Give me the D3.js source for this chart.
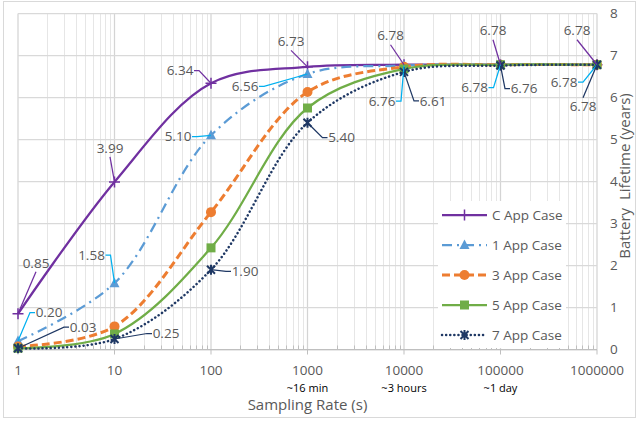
<!DOCTYPE html>
<html>
<head>
<meta charset="utf-8">
<script src="https://cdn.jsdelivr.net/npm/d3@7"></script>
<style>
  body { margin: 0; background: #fff; }
  text { font-family: "Open Sans", "Noto Sans", sans-serif; }
</style>
</head>
<body>
<svg id="chart" width="637" height="421"></svg>
<script>
// ---- data ----
var samplingRates = [1, 10, 100, 1000, 10000, 100000, 1000000];
var cApp = [0.85, 3.99, 6.34, 6.73, 6.78, 6.78, 6.78];
var app1 = [0.20, 1.58, 5.10, 6.56, 6.76, 6.78, 6.78];
var app3 = [0.07, 0.55, 3.27, 6.13, 6.73, 6.78, 6.78];
var app5 = [0.03, 0.37, 2.42, 5.75, 6.68, 6.78, 6.78];
var app7 = [0.03, 0.25, 1.90, 5.40, 6.61, 6.76, 6.78];
var seriesNames = ["C App Case", "1 App Case", "3 App Case", "5 App Case", "7 App Case"];
var xTickLabels = ["1", "10", "100", "1000", "10000", "100000", "1000000"];
var xNoteLabels = ["", "", "", "~16 min", "~3 hours", "~1 day", ""];
var yTickValues = [0, 1, 2, 3, 4, 5, 6, 7, 8];

// line / marker styles for each series
var styles = [
  { color: "#7030A0", width: 2.25, dash: null, marker: "plus" },
  { color: "#5B9BD5", width: 2.25, dash: "10,5,2,5", marker: "triangle" },
  { color: "#ED7D31", width: 3, dash: "8,4", marker: "circle" },
  { color: "#70AD47", width: 2.25, dash: null, marker: "square" },
  { color: "#1F3864", width: 2.5, dash: "0.1,4", marker: "asterisk" }
];

// data label offsets from the marker [dx, dy, leader side]
var cLabelPos = [[18, -51, "b"], [-4.5, -34, "b"], [-31, -12.7, "r"], [-16.5, -25.5, "b"], [-13.5, -29, "b"], [-7.5, -34, "b"], [-20, -34, "b"]];
var app1LabelPos = [[31, -28.6, "l"], [-23, -28, "r"], [-33, 1.4, "r"], [-62.5, 12.3, "r"], [-22, 35.5, "r"], [-26, 23, "r"], [-33, 17.5, "r"]];
var app7LabelPos = [[65, -21, "l"], [51.5, -5.5, "l"], [34, 1.6, "l"], [34, 15, "l"], [29, 29, "l"], [23.5, 23, "l"], [-14, 42, "t"]];

var allSeries = [cApp, app1, app3, app5, app7];

var svg = d3.select("#chart");

// chart border
svg.append("rect")
  .attr("x", 3.5).attr("y", 1.5)
  .attr("width", 632).attr("height", 416)
  .attr("fill", "#fff")
  .attr("stroke", "#d9d9d9");

var plot = { left: 18, right: 597, top: 13.5, bottom: 349.5 };

var x = d3.scaleLog()
  .domain([1, 1000000])
  .range([plot.left, plot.right]);

var y = d3.scaleLinear()
  .domain([0, 8])
  .range([plot.bottom, plot.top]);

// minor vertical gridlines
var minorVals = [];
for (var dec = 1; dec < 1000000; dec *= 10) {
  for (var m = 2; m < 10; m++) minorVals.push(dec * m);
}
svg.append("g").selectAll("line")
  .data(minorVals).enter().append("line")
  .attr("x1", function(d) { return Math.round(x(d)) + 0.5; })
  .attr("x2", function(d) { return Math.round(x(d)) + 0.5; })
  .attr("y1", plot.top).attr("y2", plot.bottom)
  .attr("stroke", "#e6e6e6").attr("stroke-width", 1);

// major vertical gridlines
svg.append("g").selectAll("line")
  .data(samplingRates).enter().append("line")
  .attr("x1", function(d) { return x(d); })
  .attr("x2", function(d) { return x(d); })
  .attr("y1", plot.top).attr("y2", plot.bottom)
  .attr("stroke", "#d4d4d4").attr("stroke-width", 1.25);

// horizontal gridlines
svg.append("g").selectAll("line")
  .data(yTickValues).enter().append("line")
  .attr("x1", plot.left).attr("x2", plot.right)
  .attr("y1", function(d) { return y(d); })
  .attr("y2", function(d) { return y(d); })
  .attr("stroke", "#d9d9d9").attr("stroke-width", 1.25);

// bottom axis line + ticks
svg.append("line")
  .attr("x1", plot.left).attr("x2", plot.right)
  .attr("y1", plot.bottom).attr("y2", plot.bottom)
  .attr("stroke", "#bfbfbf").attr("stroke-width", 1.25);
svg.append("g").selectAll("line")
  .data(minorVals).enter().append("line")
  .attr("x1", function(d) { return Math.round(x(d)) + 0.5; })
  .attr("x2", function(d) { return Math.round(x(d)) + 0.5; })
  .attr("y1", plot.bottom - 4).attr("y2", plot.bottom)
  .attr("stroke", "#bfbfbf");
svg.append("g").selectAll("line")
  .data(samplingRates).enter().append("line")
  .attr("x1", function(d) { return x(d); })
  .attr("x2", function(d) { return x(d); })
  .attr("y1", plot.bottom).attr("y2", plot.bottom + 5)
  .attr("stroke", "#bfbfbf");

// x tick labels
svg.append("g").selectAll("text")
  .data(samplingRates).enter().append("text")
  .attr("x", function(d) { return x(d); })
  .attr("y", 375)
  .attr("text-anchor", "middle")
  .attr("font-size", "13.5px")
  .attr("fill", "#595959")
  .text(function(d, i) { return xTickLabels[i]; });

svg.append("g").selectAll("text")
  .data(samplingRates).enter().append("text")
  .attr("x", function(d) { return x(d); })
  .attr("y", 392)
  .attr("text-anchor", "middle")
  .attr("font-size", "11px")
  .attr("fill", "#000")
  .text(function(d, i) { return xNoteLabels[i]; });

svg.append("text")
  .attr("x", (plot.left + plot.right) / 2)
  .attr("y", 410)
  .attr("text-anchor", "middle")
  .attr("font-size", "15px")
  .attr("fill", "#595959")
  .text("Sampling Rate (s)");

// right y axis labels
svg.append("g").selectAll("text")
  .data(yTickValues).enter().append("text")
  .attr("x", 610)
  .attr("y", function(d) { return y(d); })
  .attr("dy", "0.35em")
  .attr("font-size", "13.5px")
  .attr("fill", "#595959")
  .text(function(d) { return d; });

svg.append("text")
  .attr("transform", "translate(630," + 176 + ") rotate(-90)")
  .attr("text-anchor", "middle")
  .attr("font-size", "15px")
  .attr("fill", "#595959")
  .attr("xml:space", "preserve")
  .text("Battery  Lifetime (years)");

// lines
var line = d3.line()
  .x(function(d, i) { return x(samplingRates[i]); })
  .y(function(d) { return y(d); })
  .curve(d3.curveCatmullRom.alpha(0.5));

function drawMarker(g, type, color) {
  if (type === "plus") {
    g.append("path").attr("d", "M-5.5,0H5.5M0,-5.5V5.5")
      .attr("stroke", color).attr("stroke-width", 1.5).attr("fill", "none");
  } else if (type === "triangle") {
    g.append("path").attr("d", "M0,-5.5L5,4L-5,4Z").attr("fill", color);
  } else if (type === "circle") {
    g.append("circle").attr("r", 5).attr("fill", color);
  } else if (type === "square") {
    g.append("rect").attr("x", -4.5).attr("y", -4.5).attr("width", 9).attr("height", 9).attr("fill", color);
  } else if (type === "asterisk") {
    g.append("path").attr("d", "M-4,-4L4,4M-4,4L4,-4M0,-5V5")
      .attr("stroke", color).attr("stroke-width", 2).attr("fill", "none");
  }
}

allSeries.forEach(function(values, si) {
  var st = styles[si];
  var grp = svg.append("g").attr("class", "series");
  grp.append("path")
    .datum(values)
    .attr("d", line)
    .attr("fill", "none")
    .attr("stroke", st.color)
    .attr("stroke-width", st.width)
    .attr("stroke-dasharray", st.dash)
    .attr("stroke-linecap", si === 4 ? "round" : "butt");
  values.forEach(function(v, i) {
    var mg = grp.append("g")
      .attr("transform", "translate(" + x(samplingRates[i]) + "," + y(v) + ")");
    drawMarker(mg, st.marker, st.color);
  });
});

// data labels with leader lines
function drawLabels(values, layout, leaderColor) {
  var g = svg.append("g");
  values.forEach(function(v, i) {
    var px = x(samplingRates[i]), py = y(v);
    var tx = px + layout[i][0], ty = py + layout[i][1];
    var side = layout[i][2];
    var hw = 14, hh = 6;
    var pts;
    if (side === "b") pts = [[tx, ty + hh + 3], [px, py]];
    else if (side === "t") pts = [[tx, ty - hh - 3], [px, py]];
    else if (side === "r") pts = [[tx + hw, ty], [tx + hw + 5, ty], [px, py]];
    else pts = [[tx - hw, ty], [tx - hw - 5, ty], [px, py]];
    g.append("path")
      .attr("d", d3.line()(pts))
      .attr("fill", "none")
      .attr("stroke", leaderColor)
      .attr("stroke-width", 1.25);
    g.append("text")
      .attr("x", tx).attr("y", ty)
      .attr("dy", "0.35em")
      .attr("text-anchor", "middle")
      .attr("font-size", "13.5px")
      .attr("fill", "#595959")
      .text(v.toFixed(2));
  });
}
drawLabels(cApp, cLabelPos, "#7030A0");
drawLabels(app1, app1LabelPos, "#00B0F0");
drawLabels(app7, app7LabelPos, "#1F3864");

// legend
var legend = svg.append("g");
legend.append("rect")
  .attr("x", 438).attr("y", 201)
  .attr("width", 128).attr("height", 147)
  .attr("fill", "#fff");
seriesNames.forEach(function(name, i) {
  var st = styles[i];
  var ly = 215 + i * 30;
  var lg = legend.append("g");
  lg.append("line")
    .attr("x1", 442).attr("x2", 487)
    .attr("y1", ly).attr("y2", ly)
    .attr("stroke", st.color)
    .attr("stroke-width", st.width)
    .attr("stroke-dasharray", st.dash)
    .attr("stroke-linecap", i === 4 ? "round" : "butt");
  var mg = lg.append("g").attr("transform", "translate(464.5," + ly + ")");
  drawMarker(mg, st.marker, st.color);
  lg.append("text")
    .attr("x", 492).attr("y", ly)
    .attr("dy", "0.35em")
    .attr("font-size", "13.5px")
    .attr("fill", "#595959")
    .text(name);
});
</script>
</body>
</html>
